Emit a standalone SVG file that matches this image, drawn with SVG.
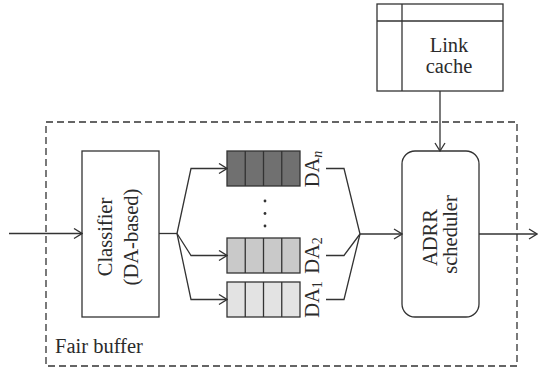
<svg xmlns="http://www.w3.org/2000/svg" width="538" height="372" viewBox="0 0 538 372">
<style>
.ln{fill:none;stroke:#333;stroke-width:1.3}
.bx{fill:#fff;stroke:#333;stroke-width:1.3}
.q{stroke:#333;stroke-width:1.3}
.t{font-size:20.5px;fill:#2b2b2b}
.dash{fill:none;stroke:#333;stroke-width:1.3;stroke-dasharray:7 4}
</style>
<defs>
<marker id="arr" markerUnits="userSpaceOnUse" markerWidth="10" markerHeight="12" viewBox="0 0 10 12" refX="9.5" refY="6" orient="auto">
<path d="M1.5,1 L9.5,6 L1.5,11" fill="none" stroke="#333" stroke-width="1.3"/>
</marker>
</defs>
<rect width="538" height="372" fill="#fff"/>
<g font-family="'Liberation Serif', 'DejaVu Serif', serif">
<g id="fair-buffer">
<rect class="dash" x="46" y="122" width="471" height="244"/>
<text class="t" x="55" y="353">Fair buffer</text>
</g>
<g id="link-cache">
<rect class="bx" x="377" y="4" width="126" height="87"/>
<line class="ln" x1="402" y1="4" x2="402" y2="91"/>
<line class="ln" x1="377" y1="21" x2="503" y2="21"/>
<text class="t" x="449" y="52" text-anchor="middle">Link</text>
<text class="t" x="449" y="73" text-anchor="middle">cache</text>
</g>
<g id="classifier">
<rect class="bx" x="82" y="151" width="77" height="166"/>
<text class="t" text-anchor="middle" transform="translate(112,237) rotate(-90)">Classifier</text>
<text class="t" text-anchor="middle" transform="translate(138,237) rotate(-90)">(DA-based)</text>
</g>
<g id="queue-dan">
<rect class="q" x="227" y="151" width="73" height="35" fill="#707070"/>
<line class="q" x1="245.25" y1="151" x2="245.25" y2="186"/>
<line class="q" x1="263.5" y1="151" x2="263.5" y2="186"/>
<line class="q" x1="281.75" y1="151" x2="281.75" y2="186"/>
<text class="t" text-anchor="middle" transform="translate(319,169) rotate(-90)">DA<tspan font-style="italic" font-size="14" dy="3">n</tspan></text>
</g>
<g id="dots" fill="#333">
<circle cx="265" cy="201" r="1.4"/>
<circle cx="265" cy="213.5" r="1.4"/>
<circle cx="265" cy="226" r="1.4"/>
</g>
<g id="queue-da2">
<rect class="q" x="227" y="238" width="73" height="35" fill="#c9c9c9"/>
<line class="q" x1="245.25" y1="238" x2="245.25" y2="273"/>
<line class="q" x1="263.5" y1="238" x2="263.5" y2="273"/>
<line class="q" x1="281.75" y1="238" x2="281.75" y2="273"/>
<text class="t" text-anchor="middle" transform="translate(319,255.5) rotate(-90)">DA<tspan font-size="14" dy="3">2</tspan></text>
</g>
<g id="queue-da1">
<rect class="q" x="227" y="282" width="73" height="35" fill="#e3e3e3"/>
<line class="q" x1="245.25" y1="282" x2="245.25" y2="317"/>
<line class="q" x1="263.5" y1="282" x2="263.5" y2="317"/>
<line class="q" x1="281.75" y1="282" x2="281.75" y2="317"/>
<text class="t" text-anchor="middle" transform="translate(319,299.5) rotate(-90)">DA<tspan font-size="14" dy="3">1</tspan></text>
</g>
<g id="scheduler">
<rect class="bx" x="402" y="151" width="77" height="166" rx="13" ry="13"/>
<text class="t" text-anchor="middle" transform="translate(437,237.5) rotate(-90)">ADRR</text>
<text class="t" text-anchor="middle" transform="translate(457,234.5) rotate(-90)">scheduler</text>
</g>
</g>
<g id="connectors">
<line class="ln" x1="9" y1="233.5" x2="82" y2="233.5" marker-end="url(#arr)"/>
<polyline class="ln" points="159,233.5 177,233.5"/>
<polyline class="ln" points="177,233.5 191,168.5 227,168.5" marker-end="url(#arr)"/>
<polyline class="ln" points="177,233.5 191,255.5 227,255.5" marker-end="url(#arr)"/>
<polyline class="ln" points="177,233.5 191,299.5 227,299.5" marker-end="url(#arr)"/>
<polyline class="ln" points="326,168.5 344,168.5 360,234"/>
<polyline class="ln" points="326,255.5 344,255.5 360,234"/>
<polyline class="ln" points="326,299.5 344,299.5 360,234"/>
<line class="ln" x1="360" y1="234" x2="402" y2="234" marker-end="url(#arr)"/>
<line class="ln" x1="440" y1="91" x2="440" y2="151" marker-end="url(#arr)"/>
<line class="ln" x1="479" y1="234" x2="537" y2="234" marker-end="url(#arr)"/>
</g>
</svg>
